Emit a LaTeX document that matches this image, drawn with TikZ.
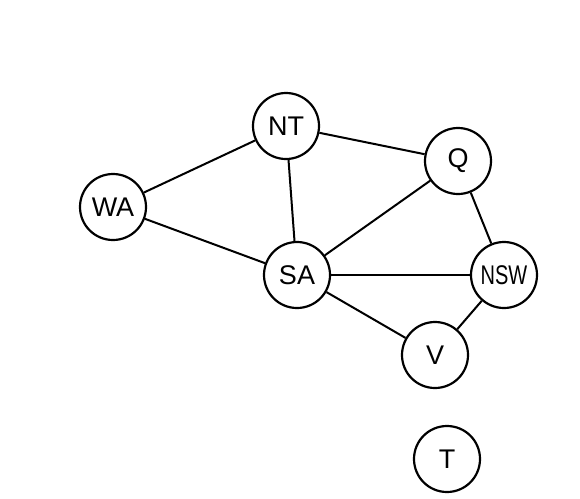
\documentclass[tikz,border=0pt]{standalone}
\usepackage{fontspec}
\setmainfont{Liberation Sans}
\usepackage{tikz}
\usetikzlibrary{positioning}

\begin{document}
\begin{tikzpicture}[
    x=1pt, y=-1pt,
    region/.style={circle, draw=black, line width=2.2pt, fill=white, minimum size=66pt, inner sep=0pt, font=\fontsize{27}{30}\selectfont},
    border/.style={line width=2pt}
]
\useasboundingbox (0,0) rectangle (580,498);

% Nodes
\node[region] (wa) at (113,207) {WA};
\node[region] (nt) at (286,126) {NT};
\node[region] (q) at (458,161) {Q};
\node[region] (sa) at (297,275) {SA};
\node[region] (nsw) at (504,275) {\scalebox{0.74}[1]{NSW}};
\node[region] (v) at (435,355) {V};
\node[region] (t) at (447,459) {T};

% Edges
\draw[border] (wa) -- (nt);
\draw[border] (wa) -- (sa);
\draw[border] (nt) -- (sa);
\draw[border] (nt) -- (q);
\draw[border] (sa) -- (q);
\draw[border] (sa) -- (nsw);
\draw[border] (sa) -- (v);
\draw[border] (q) -- (nsw);
\draw[border] (nsw) -- (v);

\end{tikzpicture}
\end{document}
